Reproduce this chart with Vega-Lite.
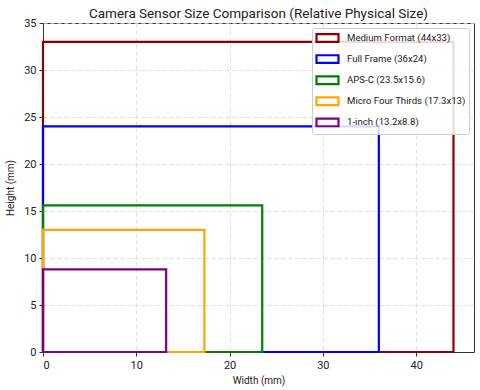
{
  "$schema": "https://vega.github.io/schema/vega-lite/v6.json",
  "width": 431,
  "height": 329,
  "autosize": {"type": "none"},
  "padding": {"left": 43, "top": 23, "right": 6, "bottom": 38},
  "title": {"text": "Camera Sensor Size Comparison (Relative Physical Size)", "fontSize": 13.5, "fontWeight": "normal", "font": "Roboto", "color": "#222", "offset": -3},
  "data": {"values": [
    {"sensor": "Medium Format (44x33)", "w": 44, "h": 33},
    {"sensor": "Full Frame (36x24)", "w": 36, "h": 24},
    {"sensor": "APS-C (23.5x15.6)", "w": 23.5, "h": 15.6},
    {"sensor": "Micro Four Thirds (17.3x13)", "w": 17.3, "h": 13},
    {"sensor": "1-inch (13.2x8.8)", "w": 13.2, "h": 8.8}
  ]},
  "mark": {"type": "rect", "filled": false, "strokeWidth": 2.2},
  "encoding": {
    "x": {"field": "w", "type": "quantitative", "scale": {"domain": [0, 46.2], "nice": false, "zero": false}, "axis": {"title": "Width (mm)", "values": [0, 10, 20, 30, 40]}},
    "x2": {"datum": 0},
    "y": {"field": "h", "type": "quantitative", "scale": {"domain": [0, 35], "nice": false}, "axis": {"title": "Height (mm)", "values": [0, 5, 10, 15, 20, 25, 30, 35]}},
    "y2": {"datum": 0},
    "stroke": {
      "field": "sensor", "type": "nominal",
      "scale": {
        "domain": ["Medium Format (44x33)", "Full Frame (36x24)", "APS-C (23.5x15.6)", "Micro Four Thirds (17.3x13)", "1-inch (13.2x8.8)"],
        "range": ["#8b0000", "#0000ff", "#008000", "#ffa500", "#800080"]
      },
      "legend": {
        "title": null,
        "orient": "top-right",
        "offset": 5,
        "fillColor": "rgba(255,255,255,0.85)",
        "strokeColor": "#cccccc",
        "cornerRadius": 2,
        "padding": 3,
        "symbolType": "M-2,-0.7H2V0.7H-2Z",
        "symbolSize": 121,
        "symbolOffset": 5.5,
        "symbolStrokeWidth": 2.2,
        "symbolFillColor": "white",
        "labelFontSize": 9.6,
        "labelFont": "Roboto",
        "labelColor": "#222",
        "labelOffset": 12.5,
        "rowPadding": 3.1
      }
    }
  },
  "config": {
    "view": {"stroke": "#333", "strokeWidth": 1},
    "axis": {
      "labelFont": "Roboto", "titleFont": "Roboto", "labelFontSize": 11, "titleFontSize": 10,
      "titleFontWeight": "normal", "labelColor": "#222", "titleColor": "#222",
      "domainColor": "#333", "tickColor": "#333", "tickSize": 4,
      "gridColor": "#d6d6d6", "gridDash": [4, 3], "gridWidth": 0.8, "labelPadding": 3
    },
    "axisX": {"titlePadding": 5},
    "axisY": {"titlePadding": 8}
  }
}
